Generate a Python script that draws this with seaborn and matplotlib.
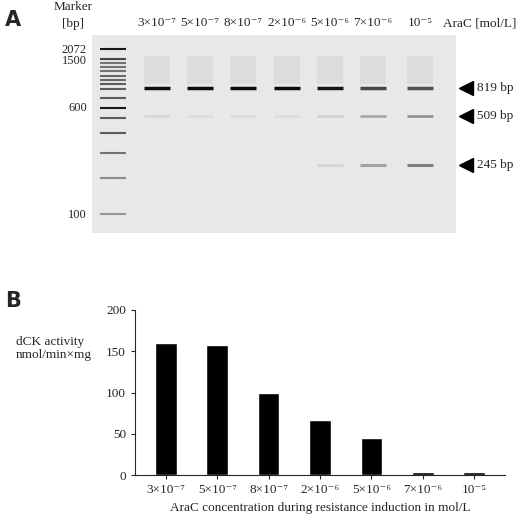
import matplotlib
matplotlib.use("Agg")
from matplotlib import pyplot as plt
import pandas as pd
import seaborn as sns

sns.set_style("white")
plt.rcParams['font.family'] = ['Liberation Serif', 'DejaVu Serif']

# Panel A: gel (positions, in pixel-like units)
lane_labels = ["3×10⁻⁷", "5×10⁻⁷", "8×10⁻⁷", "2×10⁻⁶", "5×10⁻⁶", "7×10⁻⁶", "10⁻⁵"]
lane_x = [157, 200, 243, 287, 330, 373, 420]
marker_x = 113
marker_y = [49, 59, 63, 67, 71, 76, 80, 84, 89, 98, 108, 118, 133, 153, 178, 214]
marker_alpha = [0.9, 0.7, 0.5, 0.5, 0.5, 0.55, 0.55, 0.6, 0.6, 0.6, 0.9, 0.6, 0.6, 0.5, 0.4, 0.35]
marker_labels = ["2072", "1500", "600", "100"]
marker_label_y = [50, 61, 108, 215]
band_y = {819: 88, 509: 116, 245: 165}
band_819 = [0.95, 0.95, 0.95, 0.95, 0.9, 0.7, 0.65]
band_509 = [0.08, 0.05, 0.05, 0.05, 0.1, 0.3, 0.4]
band_245 = [0.0, 0.0, 0.0, 0.0, 0.08, 0.3, 0.45]

# Panel B: bars
conc = lane_labels
dck = [160, 157, 100, 67, 45, 4, 4]

fig = plt.figure(figsize=(5.2, 5.2), dpi=100)

ax = fig.add_axes([92 / 520, 1 - 233 / 520, 364 / 520, 198 / 520])
ax.set_facecolor("#e8e8e8")
ax.set_xlim(92, 456)
ax.set_ylim(233, 35)
ax.set_xticks([]); ax.set_yticks([])
for s in ax.spines.values():
    s.set_visible(False)
# faint smear above main band
for x in lane_x:
    ax.fill_between([x - 13, x + 13], 56, 84, color="#dcdcdc", lw=0)
for y, a in zip(marker_y, marker_alpha):
    ax.hlines(y, marker_x - 13, marker_x + 13, color="black", alpha=a, lw=1.5)
for x, a in zip(lane_x, band_819):
    ax.hlines(band_y[819], x - 13, x + 13, color="black", alpha=a, lw=2.5)
for x, a in zip(lane_x, band_509):
    ax.hlines(band_y[509], x - 13, x + 13, color="black", alpha=a, lw=1.8)
for x, a in zip(lane_x, band_245):
    ax.hlines(band_y[245], x - 13, x + 13, color="black", alpha=a, lw=2.2)
for x, lab in zip(lane_x, lane_labels):
    ax.text(x, 23, lab, ha="center", va="center", fontsize=9.5, clip_on=False)
ax.text(480, 23, "AraC [mol/L]", ha="center", va="center", fontsize=9.5, clip_on=False)
ax.text(73, 7, "Marker", ha="center", va="center", fontsize=9.5, clip_on=False)
ax.text(73, 24, "[bp]", ha="center", va="center", fontsize=9.5, clip_on=False)
for y, lab in zip(marker_label_y, marker_labels):
    ax.text(87, y, lab, ha="right", va="center", fontsize=9, clip_on=False)
for bp, y in band_y.items():
    ax.plot(466, y, marker="<", color="black", ms=10, clip_on=False)
    ax.text(477, y, f"{bp} bp", ha="left", va="center", fontsize=9.5, clip_on=False)
fig.text(0.01, 0.95, "A", fontsize=15, fontweight="bold", family="DejaVu Sans")

# Panel B
bx = fig.add_axes([135 / 520, 1 - 475 / 520, 370 / 520, 165 / 520])
df = pd.DataFrame({"conc": conc, "dck": dck})
sns.barplot(data=df, x="conc", y="dck", color="black", width=0.42, ax=bx)
bx.set_ylim(0, 200)
bx.set_yticks([0, 50, 100, 150, 200])
bx.set_xlim(-0.6, 6.6)
sns.despine(ax=bx)
bx.tick_params(axis="both", labelsize=9.5, length=3, left=True, bottom=True)
bx.set_xlabel("AraC concentration during resistance induction in mol/L", fontsize=9.5)
bx.set_ylabel("")
fig.text(0.03, 0.33, "dCK activity\nnmol/min×mg", fontsize=9.5, ha="left", va="center")
fig.text(0.01, 0.41, "B", fontsize=15, fontweight="bold", family="DejaVu Sans")

fig.savefig("out.png", dpi=100)
